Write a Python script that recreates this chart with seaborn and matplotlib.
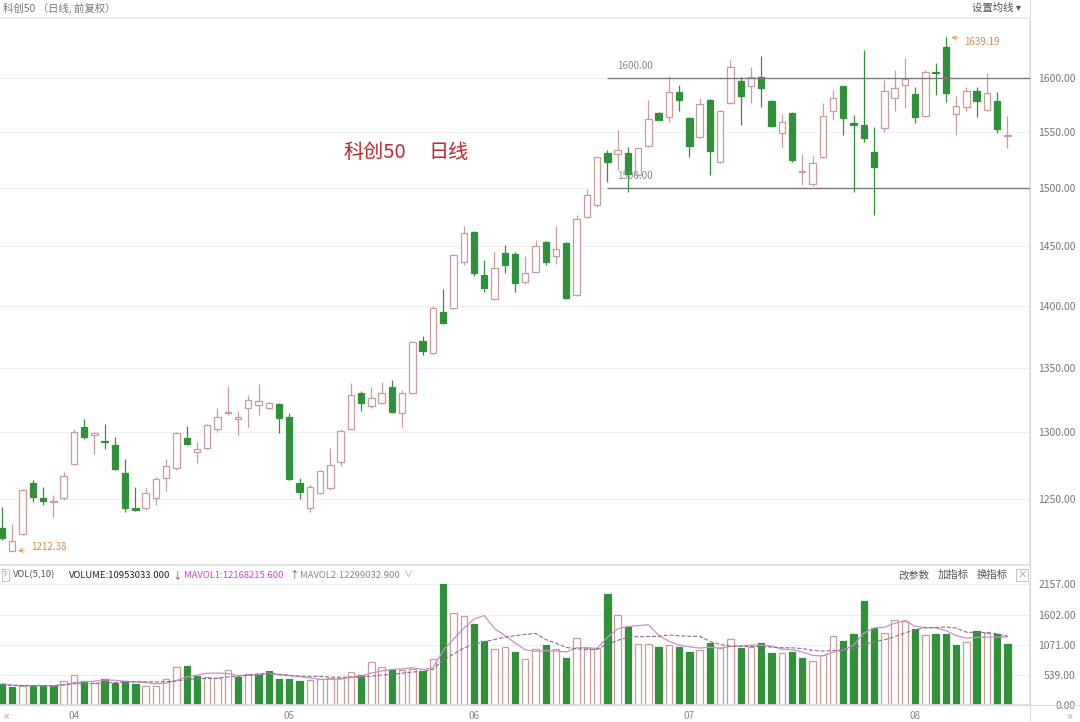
import numpy as np
import pandas as pd
import matplotlib
matplotlib.use('Agg')
import matplotlib.pyplot as plt
import seaborn as sns
from matplotlib.lines import Line2D
from matplotlib.ticker import NullLocator, NullFormatter


# daily OHLC of 科创50 (front-adjusted), late March to mid August
opens = [1229.1, 1212.4, 1224.8, 1262.0, 1250.9, 1248.0, 1250.9, 1276.0, 1304.0, 1297.9,
         1293.4, 1290.3, 1269.4, 1243.6, 1243.6, 1250.9, 1265.6, 1273.1, 1295.6, 1285.0,
         1288.1, 1302.5, 1314.8, 1310.1, 1318.6, 1320.9, 1318.6, 1321.7, 1311.7, 1262.0,
         1243.6, 1254.6, 1258.3, 1277.5, 1302.5, 1330.3, 1320.2, 1322.5, 1334.9, 1314.8,
         1330.3, 1371.4, 1361.8, 1395.0, 1398.2, 1436.4, 1461.9, 1425.5, 1405.6, 1444.0,
         1443.2, 1419.7, 1428.0, 1453.4, 1441.5, 1452.5, 1408.9, 1474.9, 1485.3, 1531.2,
         1530.4, 1531.2, 1511.6, 1537.5, 1567.5, 1563.9, 1586.9, 1563.0, 1545.7, 1579.5,
         1523.2, 1576.7, 1597.2, 1592.5, 1600.9, 1578.6, 1549.3, 1567.5, 1514.3, 1503.7,
         1527.7, 1569.4, 1592.5, 1558.4, 1556.6, 1532.1, 1553.8, 1581.3, 1593.5, 1585.1,
         1564.8, 1605.6, 1629.3, 1566.6, 1573.0, 1587.9, 1570.3, 1578.6, 1547.0]
highs = [1244.3, 1232.0, 1257.5, 1264.2, 1259.0, 1253.1, 1270.1, 1302.5, 1310.1, 1300.2,
         1306.3, 1296.4, 1279.8, 1259.0, 1258.3, 1266.4, 1279.8, 1300.2, 1304.8, 1292.6,
         1306.0, 1318.6, 1335.7, 1316.3, 1328.7, 1337.3, 1323.3, 1322.5, 1314.8, 1265.6,
         1261.2, 1271.5, 1288.1, 1302.5, 1338.1, 1331.8, 1334.9, 1338.9, 1340.4, 1332.6,
         1371.4, 1375.4, 1399.9, 1413.9, 1442.8, 1467.1, 1462.8, 1438.1, 1444.9, 1450.8,
         1444.9, 1441.5, 1455.1, 1454.2, 1467.1, 1453.4, 1476.7, 1499.3, 1528.0, 1533.9,
         1552.0, 1536.6, 1536.6, 1579.5, 1568.4, 1601.9, 1593.5, 1563.9, 1581.3, 1580.4,
         1570.3, 1617.0, 1600.9, 1610.4, 1620.8, 1579.5, 1566.6, 1568.4, 1530.4, 1528.6,
         1576.7, 1588.8, 1593.0, 1565.7, 1626.5, 1554.7, 1598.1, 1607.5, 1618.9, 1591.6,
         1607.5, 1614.1, 1639.19, 1583.2, 1591.6, 1591.6, 1604.7, 1586.9, 1564.8]
lows = [1220.5, 1212.38, 1224.0, 1248.3, 1245.8, 1237.1, 1249.5, 1275.3, 1294.9, 1283.5,
        1287.3, 1271.5, 1240.7, 1241.4, 1242.2, 1245.8, 1256.0, 1271.5, 1290.5, 1276.8,
        1287.3, 1300.2, 1313.2, 1297.9, 1304.0, 1313.2, 1317.8, 1299.4, 1264.0, 1250.2,
        1240.7, 1254.0, 1256.8, 1274.6, 1301.7, 1316.3, 1318.6, 1321.7, 1315.0, 1304.0,
        1329.5, 1360.2, 1361.0, 1385.2, 1397.4, 1433.9, 1424.7, 1411.4, 1405.0, 1427.2,
        1411.4, 1418.0, 1427.2, 1433.9, 1434.7, 1405.6, 1408.1, 1474.0, 1483.6, 1505.4,
        1516.1, 1496.6, 1510.7, 1536.6, 1561.1, 1559.3, 1569.4, 1527.7, 1544.8, 1511.6,
        1522.3, 1575.8, 1556.6, 1576.7, 1573.0, 1554.7, 1536.6, 1523.2, 1502.8, 1501.9,
        1527.0, 1561.1, 1547.5, 1496.6, 1541.2, 1476.7, 1550.2, 1569.4, 1572.1, 1558.4,
        1564.0, 1584.1, 1577.7, 1547.5, 1569.4, 1563.9, 1569.4, 1549.3, 1535.7]
closes = [1222.0, 1219.8, 1256.8, 1251.6, 1249.0, 1248.5, 1267.1, 1300.2, 1296.4, 1299.4,
          1292.6, 1272.3, 1243.6, 1242.2, 1254.6, 1264.9, 1274.6, 1299.4, 1291.1, 1287.3,
          1305.5, 1311.7, 1315.5, 1311.7, 1324.8, 1324.0, 1322.5, 1310.9, 1264.9, 1255.3,
          1259.0, 1270.8, 1275.3, 1300.9, 1328.7, 1322.5, 1326.4, 1330.3, 1315.5, 1330.3,
          1370.6, 1363.4, 1398.2, 1386.0, 1442.3, 1461.0, 1427.2, 1414.7, 1431.4, 1433.9,
          1418.8, 1427.2, 1449.9, 1436.4, 1447.4, 1406.4, 1473.2, 1494.0, 1527.7, 1523.2,
          1533.9, 1512.5, 1535.7, 1562.0, 1561.5, 1586.9, 1579.5, 1537.5, 1575.8, 1533.0,
          1569.4, 1610.4, 1583.2, 1600.9, 1590.7, 1555.6, 1559.3, 1525.0, 1514.7, 1522.3,
          1564.8, 1581.3, 1563.0, 1556.6, 1544.8, 1518.7, 1587.9, 1590.7, 1599.1, 1563.9,
          1605.6, 1604.7, 1586.0, 1574.0, 1587.9, 1578.6, 1586.0, 1552.9, 1547.5]
# volume in units of 10k
volumes = [375, 327, 339, 345, 345, 345, 429, 536, 423, 387,
           464, 399, 435, 375, 345, 339, 458, 673, 690, 518,
           494, 476, 625, 506, 548, 548, 607, 470, 470, 429,
           446, 464, 488, 488, 583, 536, 762, 673, 619, 625,
           643, 607, 827, 2157, 1649, 1595, 1440, 1143, 1000, 1030,
           940, 816, 1000, 1066, 1000, 845, 1191, 1012, 1012, 1977,
           1607, 1399, 1089, 1089, 1036, 1080, 1036, 952, 982, 1101,
           1012, 1173, 1012, 1042, 1101, 923, 923, 946, 845, 786,
           893, 1232, 1149, 1268, 1863, 1369, 1280, 1518, 1506, 1357,
           1250, 1262, 1262, 1071, 1119, 1321, 1292, 1262, 1095]

month_pos = [7, 28, 46, 67, 89]
month_labels = ['04', '05', '06', '07', '08']
price_ticks = [1250, 1300, 1350, 1400, 1450, 1500, 1550, 1600]
vol_ticks = [0, 539, 1071, 1602, 2157]
levels = [1500, 1600]

df = pd.DataFrame({'open': opens, 'high': highs, 'low': lows,
                   'close': closes, 'volume': volumes})
df['idx'] = np.arange(len(df))
df['up'] = df['close'] >= df['open']
df['vol_up'] = df['close'].diff() > 0
df['mavol1'] = df['volume'].rolling(5, min_periods=1).mean()
df['mavol2'] = df['volume'].rolling(10, min_periods=1).mean()

sns.set_theme(style='white')
plt.rcParams['font.family'] = ['Noto Sans CJK SC', 'DejaVu Sans']

GREEN = '#31913a'
PINK = '#c99c9c'
GRAY = '#808080'
W, H = 1080, 722

fig = plt.figure(figsize=(10.8, 7.22), dpi=100)
ax = fig.add_axes([0, 1 - 565 / H, 1030 / W, (565 - 18) / H])
axv = fig.add_axes([0, 1 - 705 / H, 1030 / W, (705 - 582) / H])

# candles
up = df[df['up']]
dn = df[~df['up']]
ax.vlines(up['idx'], up['low'], up['high'], color=PINK, lw=0.9, zorder=1)
ax.vlines(dn['idx'], dn['low'], dn['high'], color=GREEN, lw=0.9, zorder=1)
ax.bar(up['idx'], (up['close'] - up['open']).clip(lower=0.15), bottom=up['open'],
       width=0.62, color='white', edgecolor=PINK, linewidth=0.9, zorder=2)
ax.bar(dn['idx'], dn['open'] - dn['close'], bottom=dn['close'],
       width=0.62, color=GREEN, edgecolor=GREEN, linewidth=0.9, zorder=2)

ax.set_yscale('log')
ax.set_ylim(1202.7, 1657.3)
ax.set_xlim(-0.2, 100.2)
ax.set_yticks(price_ticks, labels=[f'{t:.2f}' for t in price_ticks])
ax.yaxis.set_minor_locator(NullLocator())
ax.yaxis.set_minor_formatter(NullFormatter())
ax.yaxis.tick_right()
ax.tick_params(axis='y', length=0, pad=33, labelsize=7.5, labelcolor='#777777')
for lab in ax.get_yticklabels():
    lab.set_horizontalalignment('right')
ax.set_xticks([])
ax.grid(axis='y', color='#f0f0f0', lw=0.8)
ax.set_axisbelow(True)

# support / resistance lines
for lv in levels:
    ax.hlines(lv, 59, 100.2, color='#7a7a7a', lw=1.0, zorder=3)
    ax.annotate(f'{lv:.2f}', xy=(60, lv), xytext=(0, 5), textcoords='offset points',
                fontsize=7, color='#8a8a8a', va='bottom', ha='left')

lo_i = int(np.argmin(lows))
hi_i = int(np.argmax(highs))
ax.annotate(f'{lows[lo_i]:.2f}', xy=(lo_i + 0.3, lows[lo_i]), xytext=(11, 3),
            textcoords='offset points', fontsize=7, color='#d08a4e', va='center',
            arrowprops=dict(arrowstyle='->', color='#d08a4e', lw=0.6))
ax.annotate(f'{highs[hi_i]:.2f}', xy=(hi_i + 0.3, highs[hi_i]), xytext=(11, -4),
            textcoords='offset points', fontsize=7, color='#d08a4e', va='center',
            arrowprops=dict(arrowstyle='->', color='#d08a4e', lw=0.6))

for s in ['left']:
    ax.spines[s].set_visible(False)
ax.spines['right'].set_color('#dddddd')
ax.spines['top'].set_color('#e8e8e8')
ax.spines['bottom'].set_color('#dddddd')

# volume
vu = df[df['vol_up']]
vd = df[~df['vol_up']]
axv.bar(vu['idx'], vu['volume'], width=0.62, color='white', edgecolor=PINK, linewidth=0.9)
axv.bar(vd['idx'], vd['volume'], width=0.62, color=GREEN, edgecolor=GREEN, linewidth=0.9)
sns.lineplot(x=df['idx'], y=df['mavol1'], ax=axv, color='#c98fc9', lw=0.9, legend=False)
sns.lineplot(x=df['idx'], y=df['mavol2'], ax=axv, color='#8d6e8d', lw=0.8,
             linestyle='--', legend=False)
axv.set_xlim(-0.2, 100.2)
axv.set_ylim(0, 2196)
axv.set_xlabel('')
axv.set_ylabel('')
axv.set_yticks(vol_ticks, labels=[f'{t:.2f}' for t in vol_ticks])
axv.yaxis.tick_right()
axv.tick_params(axis='y', length=0, pad=33, labelsize=7.5, labelcolor='#777777')
for lab in axv.get_yticklabels():
    lab.set_horizontalalignment('right')
axv.set_xticks(month_pos, labels=month_labels)
axv.tick_params(axis='x', length=0, pad=4, labelsize=7, labelcolor='#888888')
axv.grid(axis='y', color='#f0f0f0', lw=0.8)
axv.set_axisbelow(True)
axv.spines['left'].set_visible(False)
axv.spines['top'].set_visible(False)
axv.spines['right'].set_color('#dddddd')
axv.spines['bottom'].set_color('#dddddd')


def ftext(x, y, s, **kw):
    fig.text(x / W, 1 - y / H, s, va='center', ha='left', **kw)


# header texts
ftext(3, 8, '科创50 （日线, 前复权）', fontsize=7.5, color='#777777')
ftext(972, 8, '设置均线 ▾', fontsize=7.5, color='#555555')
ftext(343, 153, '科创50', fontsize=14.5, color='#c0282d')
ftext(428, 153, '日线', fontsize=14.5, color='#c0282d')

ftext(3, 575, '?', fontsize=6.5, color='#999999',
      bbox=dict(boxstyle='square,pad=0.15', fc='white', ec='#bbbbbb', lw=0.6))
ftext(13, 575, 'VOL(5,10)', fontsize=6.8, color='#555555')
ftext(69, 575, 'VOLUME:10953033.000', fontsize=6.8, color='#222222')
ftext(172, 575, '↓', fontsize=7, color='#555555')
ftext(184, 575, 'MAVOL1:12168215.600', fontsize=6.8, color='#cc44cc')
ftext(289, 575, '↑', fontsize=7, color='#555555')
ftext(300, 575, 'MAVOL2:12299032.900', fontsize=6.8, color='#888888')
ftext(404, 575, '∨', fontsize=6.5, color='#999999')
ftext(898, 575, '改参数', fontsize=7.5, color='#555555')
ftext(938, 575, '加指标', fontsize=7.5, color='#555555')
ftext(977, 575, '换指标', fontsize=7.5, color='#555555')
ftext(1017, 575, '×', fontsize=7, color='#999999',
      bbox=dict(boxstyle='square,pad=0.1', fc='white', ec='#bbbbbb', lw=0.6))
ftext(3, 716, '«', fontsize=9, color='#aaaaaa')
ftext(1066, 716, '»', fontsize=9, color='#aaaaaa')

fig.add_artist(Line2D([1030 / W, 1030 / W], [0, 1], color='#dddddd', lw=0.8))
fig.add_artist(Line2D([0, 1], [1 - 705 / H, 1 - 705 / H], color='#dddddd', lw=0.8))

fig.savefig('out.png', dpi=100, facecolor='white')
